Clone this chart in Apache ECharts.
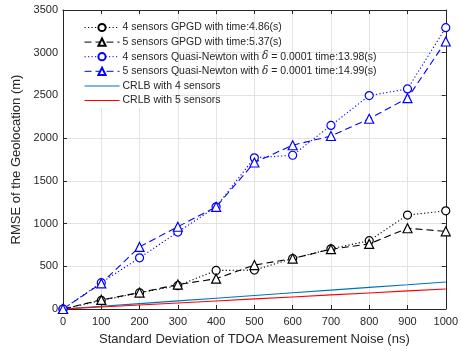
<!DOCTYPE html>
<html><head><meta charset="utf-8">
<script src="https://cdn.jsdelivr.net/npm/echarts@6/dist/echarts.min.js"></script>
<style>html,body{margin:0;padding:0;background:#fff}#c{width:461px;height:351px}</style>
</head><body><div id="c"></div>
<script>
const noise = [0,100,200,300,400,500,600,700,800,900,1000];
const gpgd4 = [0,100,190,273,451,456,591,704,800,1100,1149];
const gpgd5 = [0,107,192,286,355,514,590,700,762,945,909];
const qn4 = [0,308,599,901,1196,1770,1800,2149,2498,2576,3293];
const qn5 = [0,300,727,963,1196,1715,1917,2025,2227,2468,3131];
const crlb4 = [0,32,63,95,126,158,190,221,253,284,316];
const crlb5 = [0,24,47,71,94,118,141,165,188,212,235];
const names = ['4 sensors GPGD with time:4.86(s)','5 sensors GPGD with time:5.37(s)','4 sensors Quasi-Newton with δ = 0.0001 time:13.98(s)','5 sensors Quasi-Newton with δ = 0.0001 time:14.99(s)','CRLB with 4 sensors','CRLB with 5 sensors'];
const pairs = a => noise.map((x,i)=>[x,a[i]]);
const txt = '#262626', ax = '#262626', gridc = '#e3e3e3';
const font = 'Liberation Sans, Arial, sans-serif';
const chart = echarts.init(document.getElementById('c'));
const DOT = [1.2,2.3], DASH = [7,4];
function mk(name, data, color, type, symbol, z){
  return {name, type:'line', data:pairs(data), symbol: symbol||'none', symbolSize: symbol==='triangle'?9:8,
    showSymbol: !!symbol, itemStyle: symbol ? {color:'#fff', borderColor:color, borderWidth:1.2} : {color, borderWidth:0},
    lineStyle:{color, width: 1.1, type}, color, z: z||3, animation:false};
}
const lineIcon = 'path://M0,0L40,0L40,1.2L0,1.2Z';
chart.setOption({
  animation:false,
  grid: {left:63, right:15, top:10, bottom:39.5},
  graphic:[{type:'rect', shape:{x:64,y:16,width:108,height:92}, style:{fill:'#fff'}, z:1, silent:true}],
  legend:{left:84, top:22, orient:'vertical', itemWidth:35, itemHeight:9, itemGap:3.6, padding:0,
    symbolKeepAspect:true, lineStyle:{width:1},
    textStyle:{color:txt, fontSize:10.5, fontFamily:font, padding:[0,0,0,-2], rich:{i:{fontStyle:'italic', fontSize:10.5, fontFamily:'DejaVu Serif, serif', color:txt}}},
    formatter: n => n.replace('δ','{i|δ}'),
    data:[names[0],names[1],names[2],names[3],
      {name:names[4],icon:lineIcon,itemStyle:{color:'#0072BD',borderWidth:0}},
      {name:names[5],icon:lineIcon,itemStyle:{color:'#FF0000',borderWidth:0}}]},
  xAxis:[{type:'value', min:0, max:1000, interval:100, position:'bottom',
    name:'Standard Deviation of TDOA Measurement Noise (ns)', nameLocation:'middle', nameGap:24,
    nameTextStyle:{color:txt, fontSize:13, fontFamily:font},
    axisLine:{show:true, onZero:false, lineStyle:{color:ax, width:1}},
    axisTick:{show:true, inside:true, length:4, lineStyle:{color:ax}},
    axisLabel:{color:txt, fontSize:11, fontFamily:font, margin:7, formatter: v => String(v)},
    splitLine:{show:true, lineStyle:{color:gridc, width:1}}},
   {type:'value', min:0, max:1000, interval:100, position:'top',
    axisLine:{show:true, onZero:false, lineStyle:{color:ax, width:1}},
    axisTick:{show:true, inside:true, length:4, lineStyle:{color:ax}},
    axisLabel:{show:false}, splitLine:{show:false}}],
  yAxis:[{type:'value', min:0, max:3500, interval:500, position:'left',
    name:'RMSE of the Geolocation (m)', nameLocation:'middle', nameGap:27,
    nameTextStyle:{color:txt, fontSize:13, fontFamily:font},
    axisLine:{show:true, onZero:false, lineStyle:{color:ax, width:1}},
    axisTick:{show:true, inside:true, length:4, lineStyle:{color:ax}},
    axisLabel:{color:txt, fontSize:11, fontFamily:font, margin:5, formatter: v => String(v)},
    splitLine:{show:true, lineStyle:{color:gridc, width:1}}},
   {type:'value', min:0, max:3500, interval:500, position:'right',
    axisLine:{show:true, onZero:false, lineStyle:{color:ax, width:1}},
    axisTick:{show:true, inside:true, length:4, lineStyle:{color:ax}},
    axisLabel:{show:false}, splitLine:{show:false}}],
  series:[
    mk(names[4], crlb4, '#0072BD', 'solid', null, 2),
    mk(names[5], crlb5, '#FF0000', 'solid', null, 2),
    mk(names[0], gpgd4, '#000000', DOT, 'circle'),
    mk(names[1], gpgd5, '#000000', DASH, 'triangle'),
    mk(names[2], qn4, '#0000FF', DOT, 'circle'),
    mk(names[3], qn5, '#0000FF', DASH, 'triangle')
  ]
});
</script></body></html>
